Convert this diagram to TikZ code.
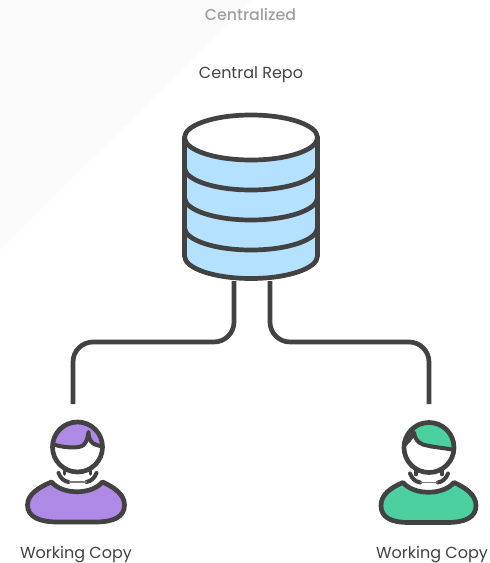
\documentclass[tikz,border=0pt]{standalone}
\usepackage{fontspec}
\setmainfont{Poppins}
\newfontfamily\titlefont{Poppins Medium}
\definecolor{ink}{HTML}{424242}
\definecolor{dbblue}{HTML}{B3E1FF}
\definecolor{purple1}{HTML}{AE8AE6}
\definecolor{green1}{HTML}{4DD0A0}
\definecolor{greytxt}{HTML}{A0A0A0}
\definecolor{wash}{HTML}{FBFBFB}
\tikzset{
  x=1pt,y=-1pt,
  stroke/.style={draw=ink,line width=4.7pt,line join=round,line cap=round},
  link/.style={stroke,line cap=butt,rounded corners=20pt},
  label/.style={font=\fontsize{16}{18}\selectfont,text=ink,inner sep=0pt,anchor=base},
  title/.style={font=\fontsize{15.8}{18}\selectfont\titlefont,text=greytxt,inner sep=0pt,anchor=base},
}
\newcommand{\bodyhead}[2]{%
  \path[stroke,fill=#1] (-26,35) .. controls (-38,40) and (#2,47) .. (#2,58)
    .. controls (#2,70) and (-38,75) .. (-20,75) -- (18,75)
    .. controls (36,75) and (47,70) .. (47,58)
    .. controls (47,47) and (36,40) .. (25,35)
    .. controls (14,48) and (-15,48) .. (-26,35) -- cycle;
  \path[fill=white] (-13,18) rectangle (13,34);
  \path[stroke,line width=3.6pt] (-13,18) -- (-13,27);
  \path[stroke,line width=3.6pt] (13,18) -- (13,27);
  \path[stroke,line width=4pt] (-19,26) .. controls (-17,31) and (-14,34) .. (-9,35);
  \path[stroke,line width=4pt] (19,26) .. controls (17,31) and (14,34) .. (9,35);
  \path[draw=ink!70,line width=1.2pt] (-9,35) -- (9,35);
  \path[fill=white] (0,0) circle (25);
}
\begin{document}
\begin{tikzpicture}
\useasboundingbox (0,0) rectangle (490,563);
\fill[white] (0,0) rectangle (490,563);
\fill[wash] (0,0) -- (252,0) -- (0,250) -- cycle;
\node[title] (title) at (250.5,20.5) {Centralized};
\node[label] (repolabel) at (251,78.5) {Central Repo};
% repository
\path[fill=dbblue] (184.5,137.5) -- (184.5,256) arc[start angle=180,end angle=360,x radius=66.5,y radius=-22] -- (317.5,137.5) -- cycle;
\draw[stroke,fill=white] (251,137.5) ellipse[x radius=66.5,y radius=22.5];
\foreach \yy in {167.5,197.5,227.5}
  \draw[stroke] (184.5,\yy) arc[start angle=180,end angle=360,x radius=66.5,y radius=-22.5];
\draw[stroke] (184.5,137.5) -- (184.5,256) arc[start angle=180,end angle=360,x radius=66.5,y radius=-22.5] -- (317.5,137.5);
\coordinate (repoL) at (234,281);
\coordinate (repoR) at (270,281);
\coordinate (userL) at (73,404);
\coordinate (userR) at (429,404);
\draw[link] (repoL) |- (153,342) -| (userL);
\draw[link] (repoR) |- (350,342) -| (userR);
% left user
\begin{scope}[shift={(77.5,447)}]
  \bodyhead{purple1}{-50}
  \begin{scope}
    \clip (0,0) circle (25);
    \fill[purple1] (-30,-30) rectangle (30,4);
    \fill[white] (-28,-4) .. controls (-16,1) and (2,2) .. (6,-2) .. controls (10,-6) and (10,-10) .. (11,-15) .. controls (11,-9) and (13,-6) .. (15,-4) .. controls (18,-2) and (22,-1) .. (28,0) -- (28,12) -- (-28,12) -- cycle;
    \draw[stroke,line width=4pt] (-28,-4) .. controls (-16,1) and (2,2) .. (6,-2) .. controls (10,-6) and (10,-10) .. (11,-15) .. controls (11,-9) and (13,-6) .. (15,-4) .. controls (18,-2) and (22,-1) .. (28,0);
  \end{scope}
  \draw[stroke] (0,0) circle (25);
\end{scope}
% right user
\begin{scope}[shift={(429,447.5)}]
  \bodyhead{green1}{-48}
  \begin{scope}
    \clip (0,0) circle (25);
    \fill[green1] (-30,-30) rectangle (30,6);
    \fill[white] (-28,0) .. controls (-22,-4) and (-18,-9) .. (-15,-15) .. controls (-14,-8) and (-11,-5) .. (-6,-3) .. controls (4,0) and (14,0) .. (28,3) -- (28,12) -- (-28,12) -- cycle;
    \draw[stroke,line width=4pt] (-28,0) .. controls (-22,-4) and (-18,-9) .. (-15,-15) .. controls (-14,-8) and (-11,-5) .. (-6,-3) .. controls (4,0) and (14,0) .. (28,3);
  \end{scope}
  \draw[stroke] (0,0) circle (25);
\end{scope}
\node[label] (labL) at (76,558) {Working Copy};
\node[label] (labR) at (432,558) {Working Copy};
\end{tikzpicture}
\end{document}
